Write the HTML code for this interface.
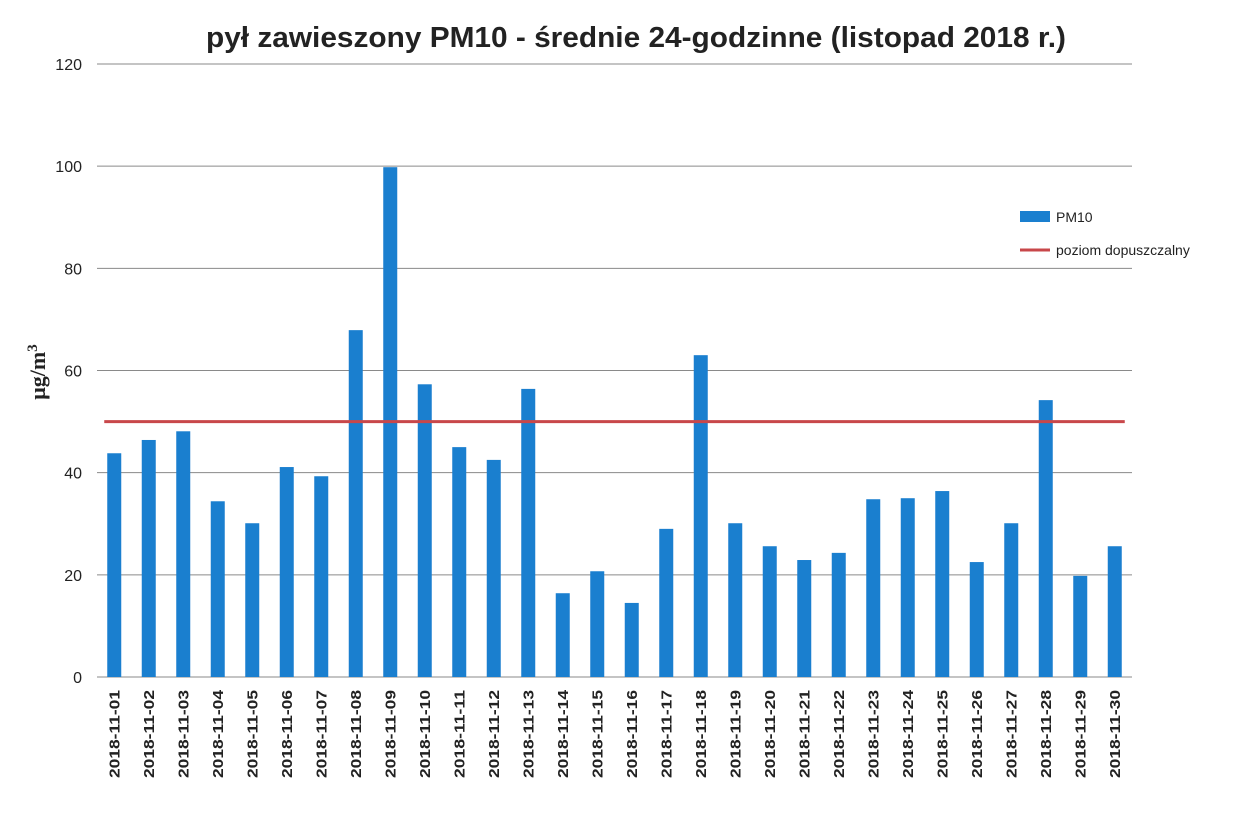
<!DOCTYPE html>
<html><head><meta charset="utf-8"><style>
body{margin:0;background:#fff;}
svg{display:block;font-family:"Liberation Sans",sans-serif;}
</style></head><body>
<svg id="chart" width="1249" height="830">
<text x="636" y="47" text-anchor="middle" font-size="29" font-weight="bold" fill="#222" textLength="860" lengthAdjust="spacingAndGlyphs">pył zawieszony PM10 - średnie 24-godzinne (listopad 2018 r.)</text>
<text transform="translate(45,372) rotate(-90)" text-anchor="middle" font-family="Liberation Serif,serif" font-size="22" font-weight="bold" fill="#222">μg/m<tspan dy="-8" font-size="15">3</tspan></text>
<g id="grid"></g><g id="bars"></g><g id="xlabels"></g>
<g>
<rect x="1020" y="211" width="30" height="11" fill="#1a7fcf"/>
<text x="1056" y="222" font-size="14" fill="#222">PM10</text>
<line x1="1020" y1="250" x2="1050" y2="250" stroke="#c8474a" stroke-width="3"/>
<text x="1056" y="255" font-size="14" fill="#222">poziom dopuszczalny</text>
</g>
</svg>
<script>
const categories=[];for(let d=1;d<=30;d++)categories.push('2018-11-'+String(d).padStart(2,'0'));
const pm10Values=[43.8,46.4,48.1,34.4,30.1,41.1,39.3,67.9,99.8,57.3,45,42.5,56.4,16.4,20.7,14.5,29,63,30.1,25.6,22.9,24.3,34.8,35,36.4,22.5,30.1,54.2,19.8,25.6];
const limitValue=50;
const yTicks=[0,20,40,60,80,100,120];
const NS='http://www.w3.org/2000/svg';
const x0=97,x1=1132,yb=677,yt=64,ymax=120;
const bw=(x1-x0)/categories.length;
const y=v=>yb-(v/ymax)*(yb-yt);
const xc=i=>x0+bw*(i+0.5);
function mk(t,a,p){const e=document.createElementNS(NS,t);for(const k in a)e.setAttribute(k,a[k]);p.appendChild(e);return e;}
const g=document.getElementById('grid');
yTicks.forEach(v=>{
 const l=mk('line',{x1:x0,x2:x1,y1:y(v),y2:y(v),stroke:'#8a8a8a','stroke-width':1},g);
 
 
 const t=mk('text',{x:82,y:y(v)+6,'text-anchor':'end','font-size':16,fill:'#222'},g);t.textContent=v;
 
 
});
const b=document.getElementById('bars');
pm10Values.forEach((v,i)=>{
 const r=mk('rect',{x:xc(i)-7,y:y(v),width:14,height:yb-y(v),fill:'#1a7fcf'},b);
 
 
});
const ll=mk('line',{x1:xc(0)-10,x2:xc(categories.length-1)+10,y1:y(limitValue),y2:y(limitValue),stroke:'#c8474a','stroke-width':3},b);


const xl=document.getElementById('xlabels');
categories.forEach((c,i)=>{
 const t=mk('text',{transform:`translate(${xc(i)+5},690) rotate(-90)`,'text-anchor':'end','font-size':15,'font-weight':'bold',fill:'#222',textLength:88,lengthAdjust:'spacingAndGlyphs'},xl);t.textContent=c;
 
 
});
</script>
</body></html>
